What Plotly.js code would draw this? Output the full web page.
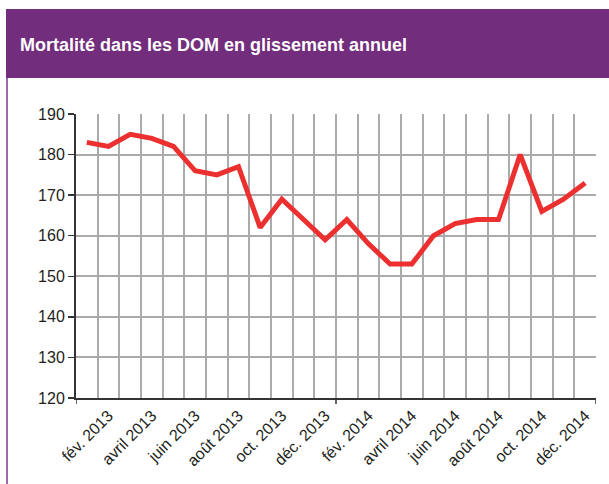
<!DOCTYPE html>
<html>
<head>
<meta charset="utf-8">
<script src="https://cdn.plot.ly/plotly-3.0.1.min.js"></script>
<style>html,body{margin:0;padding:0;background:#fff;}#chart{width:609px;height:484px;}</style>
</head>
<body>
<div id="chart"></div>
<script>
// Data
const months = ['janv. 2013','fév. 2013','mars 2013','avril 2013','mai 2013','juin 2013','juil. 2013','août 2013','sept. 2013','oct. 2013','nov. 2013','déc. 2013',
                'janv. 2014','fév. 2014','mars 2014','avril 2014','mai 2014','juin 2014','juil. 2014','août 2014','sept. 2014','oct. 2014','nov. 2014','déc. 2014'];
const mortalite = [183, 182, 185, 184, 182, 176, 175, 177, 162, 169, 164, 159,
                   164, 158, 153, 153, 160, 163, 164, 164, 180, 166, 169, 173];
const tickLabels = ['fév. 2013','avril 2013','juin 2013','août 2013','oct. 2013','déc. 2013',
                    'fév. 2014','avril 2014','juin 2014','août 2014','oct. 2014','déc. 2014'];
const titleText = 'Mortalité dans les DOM en glissement annuel';

// Layout geometry
const W = 609, H = 484;
const M = {l: 76, r: 13, t: 114, b: 86};
const PW = W - M.l - M.r, PH = H - M.t - M.b;
const px = x => (x - M.l) / PW;
const py = y => (H - M.b - y) / PH;

const ticktext = months.map(m => tickLabels.includes(m) ? m : '');
// year boundaries for major tick marks
const yearBounds = [-0.5, months.length / 2 - 0.5, months.length - 0.5];

const shapes = [
  {type: 'rect', xref: 'paper', yref: 'paper', x0: px(6), x1: px(W + 5), y0: py(78), y1: py(9),
   fillcolor: '#722e7c', line: {width: 0}, layer: 'below'},
  {type: 'line', xref: 'paper', yref: 'paper', x0: px(7), x1: px(7), y0: py(78), y1: py(H + 5),
   line: {color: '#9b6aa9', width: 2}}
];
yearBounds.forEach(b => shapes.push({
  type: 'line', xref: 'x', yref: 'paper', ysizemode: 'pixel', yanchor: 0,
  x0: b, x1: b, y0: 0, y1: -6, line: {color: '#333', width: 1.5}
}));

const trace = {
  x: months, y: mortalite, type: 'scatter', mode: 'lines',
  line: {color: '#ec2f2f', width: 5, shape: 'linear'},
  hoverinfo: 'skip'
};

const layout = {
  width: W, height: H,
  margin: M,
  paper_bgcolor: '#fff', plot_bgcolor: '#fff',
  showlegend: false,
  font: {family: 'Liberation Sans, Arial, sans-serif', color: '#231f20', size: 16},
  title: {text: titleText, xref: 'container', yref: 'container', x: 20 / W, xanchor: 'left',
          y: 1 - 45 / H, yanchor: 'middle',
          font: {family: 'Liberation Sans, Arial, sans-serif', size: 18, color: '#fff', weight: 'bold'}},
  xaxis: {
    type: 'category', range: [-0.5, months.length - 0.5],
    tickmode: 'array', tickvals: months, ticktext: ticktext,
    tickson: 'boundaries', ticks: '', tickangle: -45,
    showgrid: true, gridcolor: '#ababab', gridwidth: 2,
    showline: true, linecolor: '#333', linewidth: 2,
    tickfont: {size: 16, color: '#231f20'},
    zeroline: false, fixedrange: true
  },
  yaxis: {
    range: [120, 190], dtick: 10, tick0: 120,
    ticks: 'outside', ticklen: 6, tickwidth: 1.5, tickcolor: '#333',
    showgrid: true, gridcolor: '#ababab', gridwidth: 2,
    showline: true, linecolor: '#333', linewidth: 2,
    tickfont: {size: 16, color: '#231f20'},
    zeroline: false, fixedrange: true
  },
  shapes: shapes
};

Plotly.newPlot('chart', [trace], layout, {displayModeBar: false, staticPlot: true});
</script>
</body>
</html>
